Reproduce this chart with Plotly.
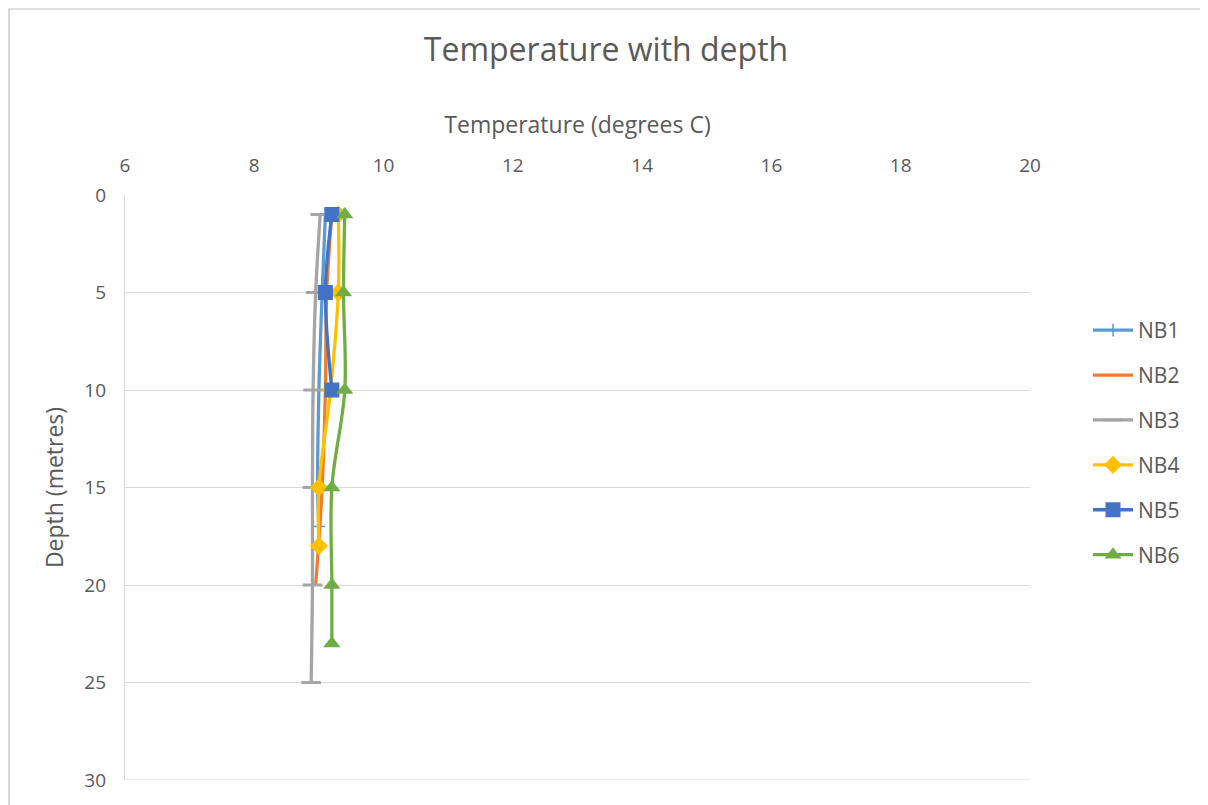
import plotly.graph_objects as go

# Data
series_names = ["NB1", "NB2", "NB3", "NB4", "NB5", "NB6"]
nb1_depth = [1, 5, 10, 15, 17]
nb1_temp = [9.1, 9.05, 9.0, 8.98, 9.0]
nb2_depth = [1, 5, 10, 15, 20]
nb2_temp = [9.2, 9.12, 9.1, 9.05, 8.95]
nb3_depth = [1, 5, 10, 15, 20, 25]
nb3_temp = [9.02, 8.95, 8.91, 8.9, 8.9, 8.88]
nb4_depth = [1, 5, 10, 15, 18]
nb4_temp = [9.3, 9.3, 9.18, 9.0, 9.0]
nb5_depth = [1, 5, 10]
nb5_temp = [9.2, 9.1, 9.2]
nb6_depth = [1, 5, 10, 15, 20, 23]
nb6_temp = [9.4, 9.38, 9.4, 9.2, 9.2, 9.2]

depths = [nb1_depth, nb2_depth, nb3_depth, nb4_depth, nb5_depth, nb6_depth]
temps = [nb1_temp, nb2_temp, nb3_temp, nb4_temp, nb5_temp, nb6_temp]
colors = ["#5B9BD5", "#ED7D31", "#A5A5A5", "#FFC000", "#4472C4", "#70AD47"]
symbols = ["cross-thin", "line-ew", "line-ew", "diamond", "square", "triangle-up"]
sizes = [9, 8, 14, 14, 15, 15]
mline_w = [1.5, 2, 3, 0, 0, 0]

fig = go.Figure()
for name, d, t, c, s, sz, mw in zip(series_names, depths, temps, colors, symbols, sizes, mline_w):
    fig.add_trace(go.Scatter(
        x=t, y=d, name=name, mode="lines+markers",
        line=dict(color=c, width=3.3, shape="spline", smoothing=1),
        marker=dict(symbol=s, size=sz, color=c, line=dict(color=c, width=mw)),
        legendgroup=name,
    ))

OFF = 8  # page body margin
W, H = 1200, 797
L, T = 125 - OFF, 195 - OFF
pw, ph = 905, 585
R, B = W - L - pw, H - T - ph

def px2x(p):
    return (p - OFF - L) / pw

def py2y(p):
    return (H - B - (p - OFF)) / ph

# chart border
fig.add_shape(type="rect", xref="paper", yref="paper",
              x0=px2x(9), x1=px2x(1203), y0=py2y(815), y1=py2y(9),
              line=dict(color="#BFBFBF", width=1.2), fillcolor="rgba(0,0,0,0)", layer="below")
# bottom gridline at max depth
fig.add_shape(type="line", xref="paper", yref="y", x0=0, x1=1, y0=30, y1=30,
              line=dict(color="#D9D9D9", width=1.2), layer="below")

font_family = "Open Sans, Noto Sans, sans-serif"
fig.update_layout(
    width=W, height=H,
    margin=dict(l=L, r=R, t=T, b=B),
    paper_bgcolor="white", plot_bgcolor="white",
    font=dict(family=font_family, color="#595959", size=20),
    title=dict(text="Temperature with depth", x=px2x(606), xref="paper", xanchor="center",
               y=1 - (50 - OFF) / H, yanchor="middle", font=dict(size=32, color="#595959")),
    xaxis=dict(side="top", range=[6, 20], dtick=2, showgrid=False, zeroline=False,
               showline=False, ticks="", ticklabelstandoff=18,
               tickfont=dict(size=19, color="#595959"),
               title=dict(text="Temperature (degrees C)", font=dict(size=23, color="#595959"), standoff=12)),
    yaxis=dict(range=[30, 0], dtick=5, showgrid=True, gridcolor="#D9D9D9", gridwidth=1.2,
               zeroline=False, showline=True, linecolor="#D9D9D9", linewidth=1.2, ticks="",
               ticklabelstandoff=14,
               tickfont=dict(size=19, color="#595959"),
               title=dict(text="Depth (metres)", font=dict(size=23, color="#595959"), standoff=14)),
    showlegend=True,
    legend=dict(x=px2x(1088), xanchor="left", y=py2y(310), yanchor="top",
                font=dict(size=21, color="#595959"), tracegroupgap=14.6,
                bgcolor="rgba(0,0,0,0)", itemwidth=40),
)

fig.write_html("out.html")
